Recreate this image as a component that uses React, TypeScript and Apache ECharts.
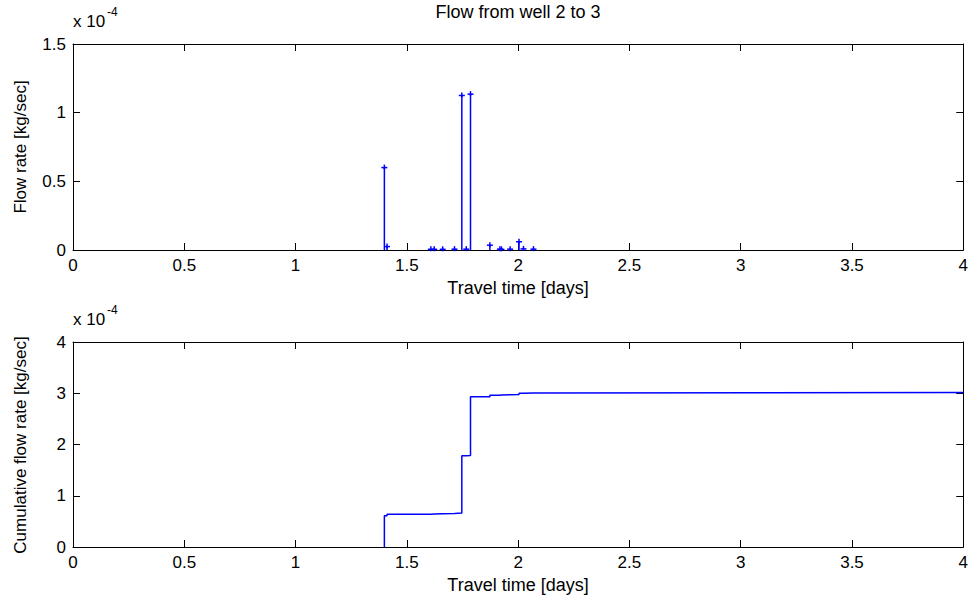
import React, { useEffect, useRef } from "react";
import * as echarts from "echarts";

// ---- Data ----
const titleText = "Flow from well 2 to 3";
const xAxisLabel = "Travel time [days]";
const topYLabel = "Flow rate [kg/sec]";
const bottomYLabel = "Cumulative flow rate [kg/sec]";
const exponentBase = "x 10";
const exponentPower = "-4";

// stems (top plot): time [days] and flow rate [kg/sec]
const stemTimes = [1.399, 1.411, 1.608, 1.623, 1.661, 1.714, 1.747, 1.767, 1.786, 1.873, 1.918, 1.925, 1.964, 2.004, 2.024, 2.069];
const stemValues = [0.6e-4, 0.025e-4, 0.005e-4, 0.005e-4, 0.005e-4, 0.006e-4, 1.125e-4, 0.006e-4, 1.135e-4, 0.035e-4, 0.006e-4, 0.005e-4, 0.006e-4, 0.06e-4, 0.008e-4, 0.006e-4];

// cumulative stairs (bottom plot)
const cumTimes = [1.399, 1.399, 1.411, 1.608, 1.623, 1.661, 1.714, 1.747, 1.767, 1.786, 1.873, 1.918, 1.925, 1.964, 2.004, 2.024, 2.069, 4];
const cumValues = [0, 0.61e-4, 0.64e-4, 0.645e-4, 0.65e-4, 0.655e-4, 0.665e-4, 1.78e-4, 1.785e-4, 2.93e-4, 2.96e-4, 2.965e-4, 2.97e-4, 2.975e-4, 3.0e-4, 3.005e-4, 3.015e-4, 3.015e-4];

const xMin = 0, xMax = 4, xInterval = 0.5;
const topYMax = 1.5e-4, topYInterval = 0.5e-4;
const bottomYMax = 4e-4, bottomYInterval = 1e-4;

const FONT = "'Liberation Sans', Arial, Helvetica, sans-serif";
const FS = 17;
const FS_LABEL = 18;
const BLUE = "#0000ff";
const INK = "#000000";

export default function App() {
  const ref = useRef<HTMLDivElement>(null);
  useEffect(() => {
    document.body.style.margin = "0";
    if (!ref.current) return;
    const chart = echarts.init(ref.current, undefined, { renderer: "svg" });

    const G1 = { left: 73, top: 44, width: 892, height: 206 };
    const G2 = { left: 73, top: 342, width: 892, height: 205 };

    const baseX = (gridIndex: number, position: "bottom" | "top", labels: boolean) => ({
      type: "value",
      gridIndex,
      position,
      min: xMin,
      max: xMax,
      interval: xInterval,
      axisLine: { show: true, onZero: false, lineStyle: { color: INK, width: 1 } },
      axisTick: { show: true, inside: true, length: 7, lineStyle: { color: INK } },
      axisLabel: {
        show: labels,
        margin: 7,
        color: INK,
        fontFamily: FONT,
        fontSize: FS,
        formatter: (v: number) => String(Math.round(v * 10) / 10),
      },
      splitLine: { show: false },
    });

    const baseY = (gridIndex: number, position: "left" | "right", labels: boolean, max: number, interval: number) => ({
      type: "value",
      gridIndex,
      position,
      min: 0,
      max,
      interval,
      axisLine: { show: true, onZero: false, lineStyle: { color: INK, width: 1 } },
      axisTick: { show: true, inside: true, length: 7, lineStyle: { color: INK } },
      axisLabel: {
        show: labels,
        margin: 7,
        color: INK,
        fontFamily: FONT,
        fontSize: FS,
        formatter: (v: number) => String(Math.round(v * 1e5) / 10),
      },
      splitLine: { show: false },
    });

    const stemData = stemTimes.map((t, i) => [t, stemValues[i]]);
    const cumData = cumTimes.map((t, i) => [t, cumValues[i]]);

    const option: any = {
      animation: false,
      backgroundColor: "#ffffff",
      grid: [
        { ...G1, containLabel: false },
        { ...G2, containLabel: false },
      ],
      xAxis: [
        baseX(0, "bottom", true),
        baseX(0, "top", false),
        baseX(1, "bottom", true),
        baseX(1, "top", false),
      ],
      yAxis: [
        baseY(0, "left", true, topYMax, topYInterval),
        baseY(0, "right", false, topYMax, topYInterval),
        baseY(1, "left", true, bottomYMax, bottomYInterval),
        baseY(1, "right", false, bottomYMax, bottomYInterval),
      ],
      series: [
        {
          type: "custom",
          xAxisIndex: 0,
          yAxisIndex: 0,
          data: stemData,
          renderItem: (params: any, api: any) => {
            const x = api.value(0);
            const v = api.value(1);
            const p0 = api.coord([x, 0]);
            const p1 = api.coord([x, v]);
            const st = { stroke: BLUE, lineWidth: 1.5, fill: "none" };
            return {
              type: "group",
              children: [
                { type: "line", shape: { x1: p0[0], y1: p0[1], x2: p1[0], y2: p1[1] }, style: st },
                { type: "line", shape: { x1: p1[0] - 3, y1: p1[1], x2: p1[0] + 3, y2: p1[1] }, style: st },
                { type: "line", shape: { x1: p1[0], y1: p1[1] - 3, x2: p1[0], y2: p1[1] + 2 }, style: st },
              ],
            };
          },
        },
        {
          type: "line",
          xAxisIndex: 2,
          yAxisIndex: 2,
          data: cumData,
          step: "end",
          showSymbol: false,
          symbol: "none",
          lineStyle: { color: BLUE, width: 1.5 },
        },
      ],
      graphic: [
        {
          type: "text",
          x: 518,
          y: 12,
          style: { text: titleText, fill: INK, font: `${FS_LABEL}px ${FONT}`, textAlign: "center", textVerticalAlign: "middle" },
        },
        {
          type: "text",
          x: 73,
          y: 21,
          style: { text: exponentBase, fill: INK, font: `${FS}px ${FONT}`, textAlign: "left", textVerticalAlign: "middle" },
        },
        {
          type: "text",
          x: 107,
          y: 12,
          style: { text: exponentPower, fill: INK, font: `12px ${FONT}`, textAlign: "left", textVerticalAlign: "middle" },
        },
        {
          type: "text",
          x: 73,
          y: 319,
          style: { text: exponentBase, fill: INK, font: `${FS}px ${FONT}`, textAlign: "left", textVerticalAlign: "middle" },
        },
        {
          type: "text",
          x: 107,
          y: 310,
          style: { text: exponentPower, fill: INK, font: `12px ${FONT}`, textAlign: "left", textVerticalAlign: "middle" },
        },
        {
          type: "text",
          x: 518,
          y: 288,
          style: { text: xAxisLabel, fill: INK, font: `${FS_LABEL}px ${FONT}`, textAlign: "center", textVerticalAlign: "middle" },
        },
        {
          type: "text",
          x: 518,
          y: 585,
          style: { text: xAxisLabel, fill: INK, font: `${FS_LABEL}px ${FONT}`, textAlign: "center", textVerticalAlign: "middle" },
        },
        {
          type: "text",
          x: 20,
          y: 147,
          rotation: Math.PI / 2,
          style: { text: topYLabel, fill: INK, font: `${FS}px ${FONT}`, textAlign: "center", textVerticalAlign: "middle" },
        },
        {
          type: "text",
          x: 20,
          y: 445,
          rotation: Math.PI / 2,
          style: { text: bottomYLabel, fill: INK, font: `${FS}px ${FONT}`, textAlign: "center", textVerticalAlign: "middle" },
        },
      ],
    };

    chart.setOption(option);
    return () => chart.dispose();
  }, []);

  return (
    <div
      ref={ref}
      style={{ position: "fixed", left: 0, top: 0, width: 971, height: 599, background: "#fff" }}
    />
  );
}
